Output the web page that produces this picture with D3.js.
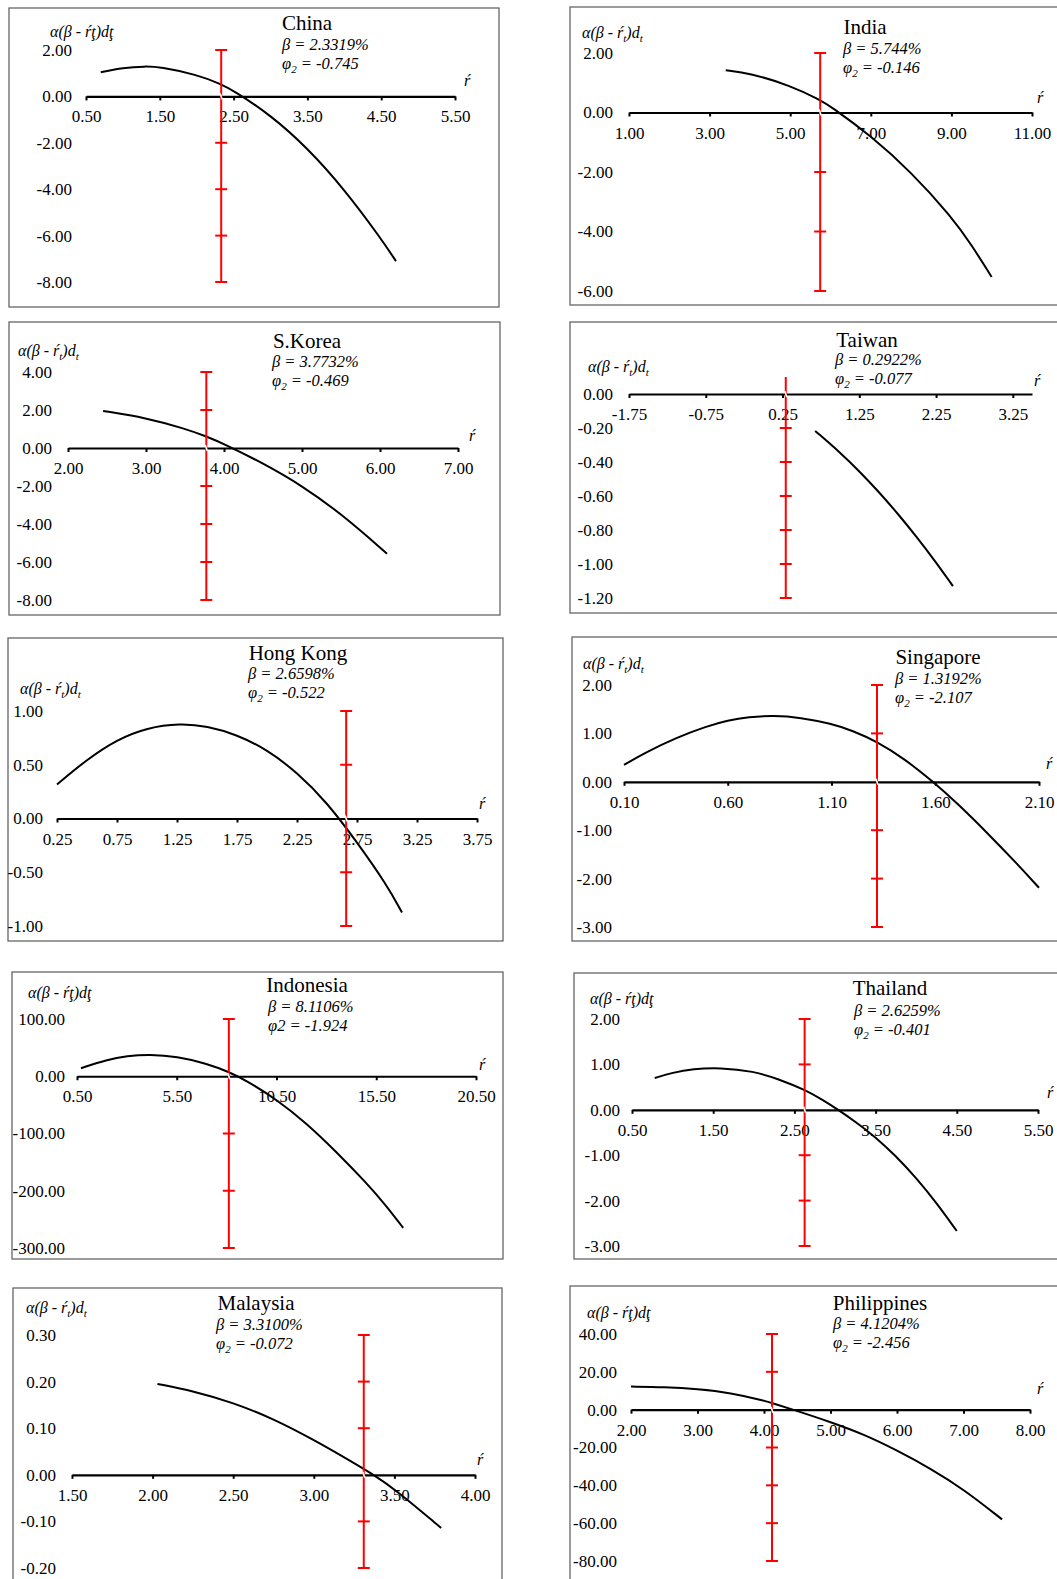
<!DOCTYPE html>
<html>
<head>
<meta charset="utf-8">
<script src="https://cdn.jsdelivr.net/npm/d3@7"></script>
<style>
  body { margin: 0; background: #fff; }
  text { font-family: "Liberation Serif", "Times New Roman", serif; fill: #000; }
</style>
</head>
<body>
<div id="chart"></div>
<script>
// ---- data ----
const countries = ["China", "India", "S.Korea", "Taiwan", "Hong Kong", "Singapore", "Indonesia", "Thailand", "Malaysia", "Philippines"];
const betas = [2.3319, 5.744, 3.7732, 0.2922, 2.6598, 1.3192, 8.1106, 2.6259, 3.3100, 4.1204];
const betaText = ["2.3319%", "5.744%", "3.7732%", "0.2922%", "2.6598%", "1.3192%", "8.1106%", "2.6259%", "3.3100%", "4.1204%"];
const phiText = ["-0.745", "-0.146", "-0.469", "-0.077", "-0.522", "-2.107", "-1.924", "-0.401", "-0.072", "-2.456"];

const xDomains = [[0.5, 5.5], [1, 11], [2, 7], [-1.75, 3.5], [0.25, 3.75], [0.1, 2.1], [0.5, 20.5], [0.5, 5.5], [1.5, 4], [2, 8]];
const xTicks = [
  [0.5, 1.5, 2.5, 3.5, 4.5, 5.5],
  [1, 3, 5, 7, 9, 11],
  [2, 3, 4, 5, 6, 7],
  [-1.75, -0.75, 0.25, 1.25, 2.25, 3.25],
  [0.25, 0.75, 1.25, 1.75, 2.25, 2.75, 3.25, 3.75],
  [0.1, 0.6, 1.1, 1.6, 2.1],
  [0.5, 5.5, 10.5, 15.5, 20.5],
  [0.5, 1.5, 2.5, 3.5, 4.5, 5.5],
  [1.5, 2, 2.5, 3, 3.5, 4],
  [2, 3, 4, 5, 6, 7, 8]
];
const yTicks = [
  [2, 0, -2, -4, -6, -8],
  [2, 0, -2, -4, -6],
  [4, 2, 0, -2, -4, -6, -8],
  [0, -0.2, -0.4, -0.6, -0.8, -1, -1.2],
  [1, 0.5, 0, -0.5, -1],
  [2, 1, 0, -1, -2, -3],
  [100, 0, -100, -200, -300],
  [2, 1, 0, -1, -2, -3],
  [0.3, 0.2, 0.1, 0, -0.1, -0.2],
  [40, 20, 0, -20, -40, -60, -80]
];
// vertical red bar at beta: [top, bottom]
const barRange = [[2, -8], [2, -6], [4, -8], [0.1, -1.2], [1, -1], [2, -3], [100, -300], [2, -3], [0.3, -0.2], [40, -80]];

const curveX = [
  [0.7, 1.0, 1.3, 1.5, 2.0, 2.33, 2.5, 3.0, 3.5, 4.0, 4.5, 4.7],
  [3.4, 4, 5, 5.744, 6, 7, 8, 9, 9.5, 10],
  [2.45, 3.0, 3.5, 3.77, 4.0, 4.5, 5.0, 5.5, 6.09],
  [0.675, 1.0, 1.25, 1.5, 1.75, 2.0, 2.25, 2.47],
  [0.25, 0.5, 0.75, 1.0, 1.275, 1.5, 1.75, 2.0, 2.25, 2.5, 2.75, 3.0, 3.125],
  [0.1, 0.2, 0.35, 0.5, 0.6, 0.7, 0.82, 0.95, 1.1, 1.2, 1.32, 1.45, 1.59, 1.7, 1.85, 2.0, 2.1],
  [0.7, 2, 3, 4.16, 5.5, 7, 8.12, 9, 10.5, 12, 13.5, 15, 16, 16.85],
  [0.78, 1.0, 1.25, 1.58, 2.0, 2.3, 2.63, 2.85, 3.04, 3.25, 3.5, 3.75, 4.0, 4.25, 4.5],
  [2.03, 2.25, 2.5, 2.75, 3.0, 3.25, 3.37, 3.5, 3.79],
  [2.0, 2.5, 3.0, 3.5, 4.0, 4.12, 4.44, 5.0, 5.5, 6.0, 6.5, 7.0, 7.58]
];
const curveY = [
  [1.04, 1.23, 1.30, 1.27, 0.94, 0.53, 0.25, -0.80, -2.22, -4.00, -6.14, -7.10],
  [1.42, 1.32, 0.91, 0.42, 0.21, -0.78, -2.0, -3.5, -4.45, -5.53],
  [1.95, 1.59, 1.02, 0.62, 0.22, -0.80, -1.98, -3.45, -5.56],
  [-0.217, -0.344, -0.454, -0.573, -0.703, -0.842, -0.990, -1.13],
  [0.317, 0.55, 0.735, 0.845, 0.885, 0.86, 0.78, 0.64, 0.43, 0.15, -0.22, -0.62, -0.875],
  [0.35, 0.6, 0.91, 1.15, 1.27, 1.34, 1.37, 1.33, 1.20, 1.06, 0.83, 0.48, 0, -0.42, -1.05, -1.72, -2.19],
  [14, 29, 35.4, 38, 34.5, 22.3, 7.4, -7.7, -40.4, -81.9, -132, -186, -226, -265],
  [0.70, 0.82, 0.90, 0.93, 0.85, 0.68, 0.44, 0.22, 0, -0.26, -0.60, -1.02, -1.5, -2.05, -2.67],
  [0.195, 0.18, 0.155, 0.12, 0.075, 0.025, 0, -0.03, -0.114],
  [12.2, 12.0, 11.0, 8.9, 4.8, 3.5, 0, -6.5, -13, -21.5, -31, -42, -58]
];
// y label style: true = subscript t, false = "ţ" glyph
const subStyle = [false, true, true, true, true, true, false, false, true, false];

// ---- layout ----
const frames = [
  [9, 8, 499, 307], [570, 7, 1070, 305],
  [9, 322, 500, 615], [570, 322, 1070, 613],
  [8, 638, 503, 941], [572, 637, 1070, 941],
  [12, 972, 503, 1259], [574, 973, 1070, 1259],
  [13, 1288, 502, 1600], [570, 1286, 1070, 1600]
];
const xPix = [[86, 455], [629, 1032], [68, 458], [629, 1032], [57, 477], [624, 1039], [77, 476], [632, 1038], [72, 475], [631, 1030]];
const yPix = [[50, 282], [53, 291], [372, 600], [394, 598], [711, 926], [685, 927], [1019, 1248], [1019, 1246], [1335, 1568], [1334, 1561]];
const yLabRight = [72, 613, 52, 613, 43, 612, 65, 620, 56, 617];
const yTitle = [[50, 31], [582, 32], [18, 350], [588, 366], [20, 688], [583, 663], [28, 992], [590, 998], [26, 1307], [587, 1312]];
const titlePos = [[307, 23], [865, 27], [307, 341], [867, 340], [298, 653], [938, 657], [307, 985], [890, 988], [256, 1303], [880, 1303]];
const annPos = [[282, 44], [843, 48], [272, 361], [835, 359], [248, 673], [895, 678], [268, 1006], [854, 1010], [216, 1324], [833, 1323]];
const rLab = [[467, 80], [1040, 97], [472, 435], [1037, 380], [482, 803], [1049, 763], [482, 1064], [1050, 1092], [480, 1459], [1040, 1388]];

const W = 1057, H = 1579;
const svg = d3.select("#chart").append("svg").attr("width", W).attr("height", H);
const fmt = d => d.toFixed(2);

countries.forEach((name, i) => {
  const g = svg.append("g");
  const f = frames[i];

  g.append("rect")
    .attr("x", f[0]).attr("y", f[1])
    .attr("width", f[2] - f[0]).attr("height", f[3] - f[1])
    .attr("fill", "none").attr("stroke", "#666").attr("stroke-width", 1.3);

  const x = d3.scaleLinear().domain(xDomains[i]).range(xPix[i]);
  const yt = yTicks[i];
  const y = d3.scaleLinear().domain([yt[0], yt[yt.length - 1]]).range(yPix[i]);

  // y tick labels (no axis line)
  g.selectAll(".yl").data(yt).enter().append("text")
    .attr("x", yLabRight[i]).attr("y", d => y(d)).attr("dy", "0.35em")
    .attr("text-anchor", "end").style("font-size", "17px")
    .text(fmt);

  // x axis at y = 0
  const ax = g.append("g")
    .attr("transform", "translate(0," + y(0) + ")")
    .call(d3.axisBottom(x).tickValues(xTicks[i]).tickFormat(fmt)
      .tickSize(4).tickSizeOuter(0).tickPadding(10));
  ax.select(".domain").attr("stroke", "#000").attr("stroke-width", 2.2);
  ax.selectAll(".tick line").attr("stroke", "#000").attr("stroke-width", 2);
  ax.selectAll(".tick text")
    .style("font-family", "'Liberation Serif', 'Times New Roman', serif")
    .style("font-size", "17px").attr("fill", "#000");

  // curve
  const pts = curveX[i].map((v, k) => [v, curveY[i][k]]);
  g.append("path")
    .datum(pts)
    .attr("fill", "none").attr("stroke", "#000").attr("stroke-width", 2)
    .attr("d", d3.line().x(d => x(d[0])).y(d => y(d[1])).curve(d3.curveBasis));

  // red bar at beta
  const bx = x(betas[i]);
  const br = barRange[i];
  g.append("line")
    .attr("x1", bx).attr("x2", bx).attr("y1", y(br[0])).attr("y2", y(br[1]))
    .attr("stroke", "#ff0000").attr("stroke-width", 2);
  const caps = yt.filter(v => v !== 0 && v <= br[0] && v >= br[1]);
  g.selectAll(".cap").data(caps).enter().append("line")
    .attr("x1", bx - 6).attr("x2", bx + 6)
    .attr("y1", d => y(d)).attr("y2", d => y(d))
    .attr("stroke", "#ff0000").attr("stroke-width", 2);
  g.append("line")
    .attr("x1", bx - 1).attr("x2", bx + 1).attr("y1", y(0) - 3).attr("y2", y(0) + 3)
    .attr("stroke", "#fff").attr("stroke-width", 1.5);

  // y title
  const yl = g.append("text")
    .attr("x", yTitle[i][0]).attr("y", yTitle[i][1]).attr("dy", "0.35em")
    .style("font-size", "16px").style("font-style", "italic");
  if (subStyle[i]) {
    yl.append("tspan").text("α(β - ŕ");
    yl.append("tspan").attr("dy", 4).style("font-size", "11px").text("t");
    yl.append("tspan").attr("dy", -4).text(")d");
    yl.append("tspan").attr("dy", 4).style("font-size", "11px").text("t");
  } else {
    yl.text("α(β - ŕţ)dţ");
  }

  // x title
  g.append("text")
    .attr("x", rLab[i][0]).attr("y", rLab[i][1]).attr("dy", "0.35em")
    .attr("text-anchor", "middle")
    .style("font-size", "16px").style("font-style", "italic")
    .text("ŕ");

  // country title and parameters
  g.append("text")
    .attr("x", titlePos[i][0]).attr("y", titlePos[i][1]).attr("dy", "0.35em")
    .attr("text-anchor", "middle").style("font-size", "21px").attr("fill", "#111")
    .text(name);

  g.append("text")
    .attr("x", annPos[i][0]).attr("y", annPos[i][1]).attr("dy", "0.35em")
    .style("font-size", "16.5px").style("font-style", "italic").attr("fill", "#333")
    .text("β = " + betaText[i]);

  const ph = g.append("text")
    .attr("x", annPos[i][0]).attr("y", annPos[i][1] + 19).attr("dy", "0.35em")
    .style("font-size", "16.5px").style("font-style", "italic").attr("fill", "#333");
  if (name === "Indonesia") {
    ph.text("φ2 = " + phiText[i]);
  } else {
    ph.append("tspan").text("φ");
    ph.append("tspan").attr("dy", 4).style("font-size", "11px").text("2");
    ph.append("tspan").attr("dy", -4).text(" = " + phiText[i]);
  }
});
</script>
</body>
</html>
